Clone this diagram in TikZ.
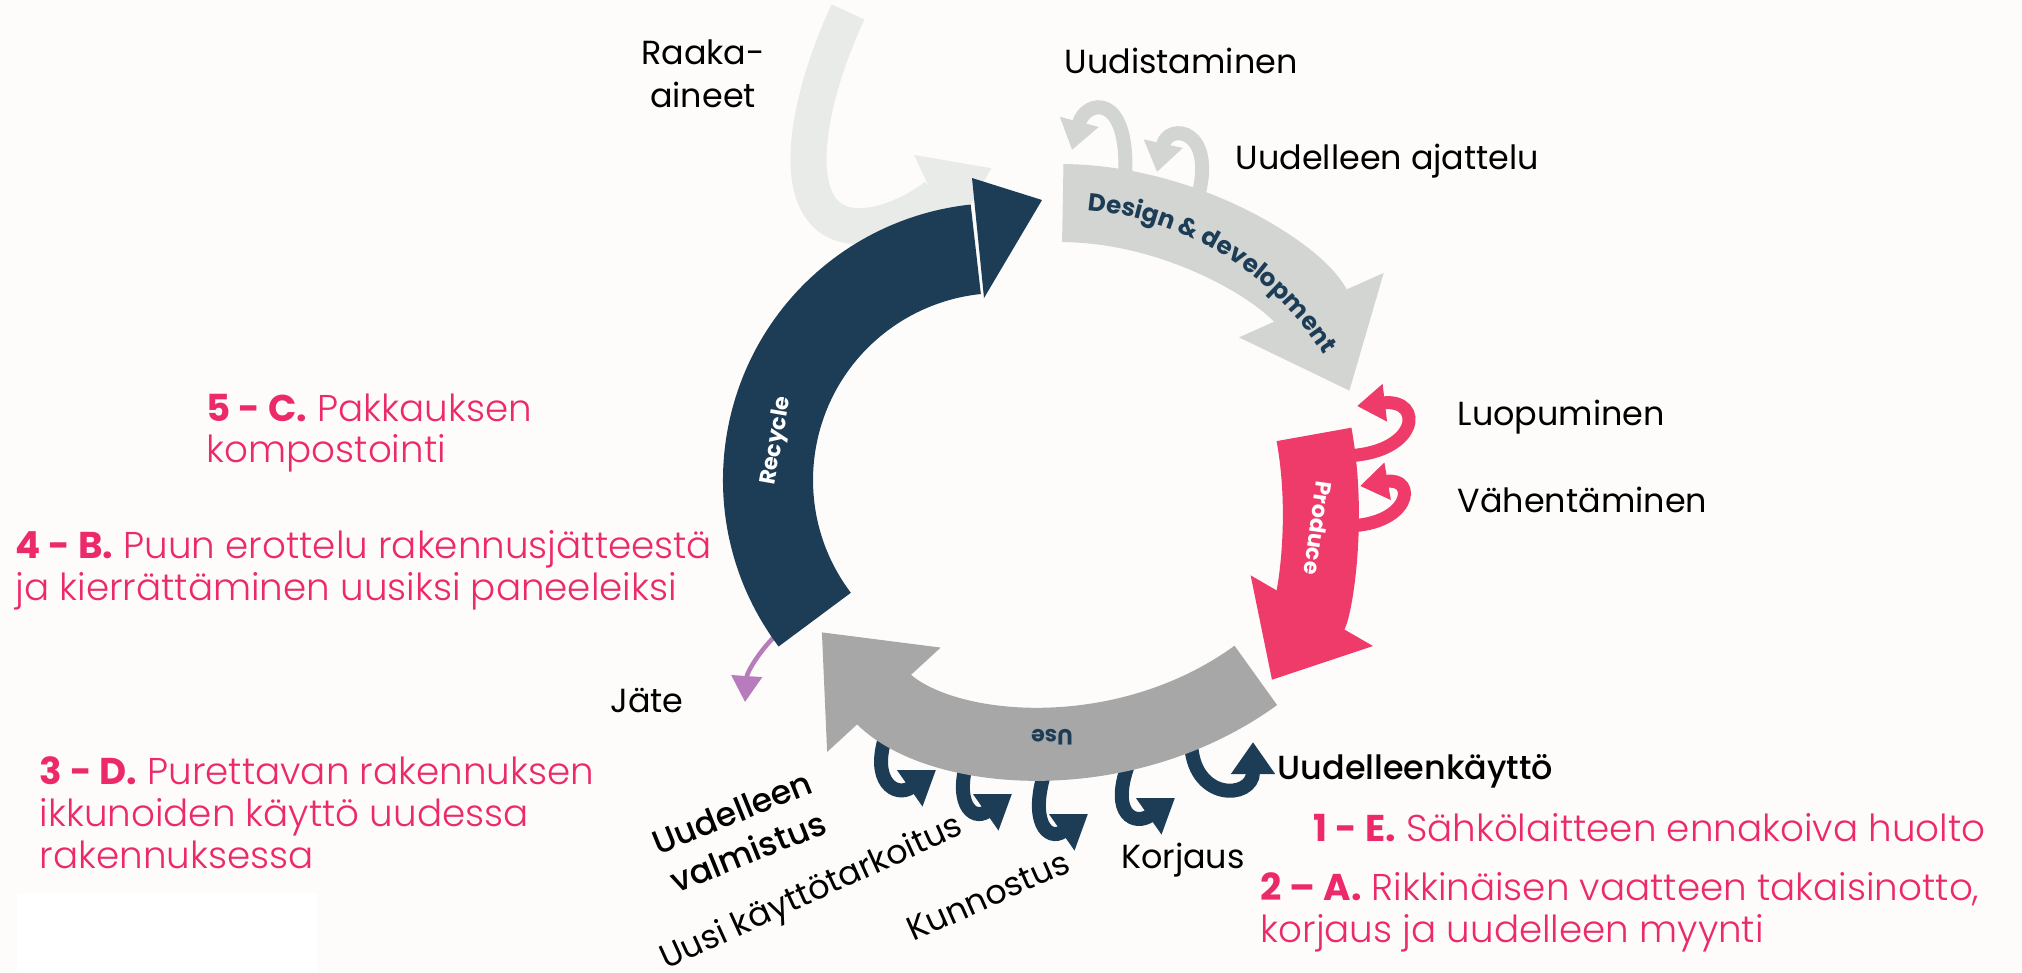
\documentclass[tikz,border=0pt]{standalone}
\usepackage{fontspec}
\setmainfont{Poppins}
\IfFontExistsTF{Poppins Medium}{\newfontfamily\medfont{Poppins Medium}}{\newfontfamily\medfont{Poppins}[FakeBold=0.8]}
\IfFontExistsTF{Poppins Light}{\newfontfamily\lightfont{Poppins Light}[BoldFont={Poppins Bold}]}{\newfontfamily\lightfont{Poppins}}
\usetikzlibrary{arrows.meta, decorations.text}
\definecolor{navy}{HTML}{1D3D57}
\definecolor{designgray}{HTML}{D3D5D2}
\definecolor{usegray}{HTML}{A7A7A7}
\definecolor{rawgray}{HTML}{E9EBE8}
\definecolor{prodpink}{HTML}{EF3B69}
\definecolor{txtpink}{HTML}{EC2A6B}
\definecolor{wastepurple}{HTML}{B77CBB}
\definecolor{paper}{HTML}{FDFCFA}
\tikzset{
    lbl/.style={font=\fontsize{9.5}{12.2}\selectfont, text=black, inner sep=0pt},
    medlbl/.style={lbl, font={\medfont\fontsize{9.5}{12.2}\selectfont}},
    casetext/.style={font={\lightfont\fontsize{10.6}{11.9}\selectfont}, text=txtpink, align=left, anchor=west, inner sep=0pt},
    stagetext/.style={font={\bfseries\fontsize{6.3}{7}\selectfont}, inner sep=0pt},
    hooknavy/.style={navy, line width=1.4mm, -{Triangle[width=4.2mm, length=3.2mm]}},
    looppink/.style={prodpink, line width=1.3mm, -{Triangle[width=3.6mm, length=2.8mm]}},
    loopgray/.style={designgray, line width=1.4mm, -{Triangle[width=3.8mm, length=2.9mm]}}
}
\begin{document}
\begin{tikzpicture}[x=0.01cm, y=-0.01cm]
    \useasboundingbox (0,0) rectangle (2022,972);
    \fill[paper] (0,0) rectangle (2022,972);
    \fill[white] (17,893) rectangle (318,972);

    \draw[rawgray, line width=3.6mm, -{Triangle[width=8.5mm, length=6.5mm]}] (848,12) .. controls (800,115) and (785,232) .. (865,226) .. controls (908,222) and (945,190) .. (992,168);

    \draw[loopgray] (1125,178) .. controls (1130,90) and (1085,100) .. (1072,150);
    \draw[loopgray] (1197,200) .. controls (1218,128) and (1168,122) .. (1157,172);
    \draw[designgray, line width=7.8mm, -{Triangle[width=15.2mm, length=9.4mm]}] (1060,520) ++(-89.5:317) arc[start angle=-89.5, end angle=-24, radius=317];
    \path[decorate, decoration={text along path, text align=center, text color=navy, text={|\bfseries\fontsize{7}{8}\selectfont|Design {\&} development}}] (1060,520) ++(-92:311) arc[start angle=-92, end angle=-25, radius=311];

    \draw[looppink] (1340,456) .. controls (1420,456) and (1425,398) .. (1357,406);
    \draw[looppink] (1340,526) .. controls (1412,528) and (1418,476) .. (1360,486);
    \draw[prodpink, line width=7.6mm, -{Triangle[width=13.6mm, length=8mm]}] (960,500) ++(-10.5:360) arc[start angle=-10.5, end angle=30, radius=360];

    \draw[hooknavy] (887,732) .. controls +(-18,50) and +(-40,28) .. (936,770);
    \draw[hooknavy] (970,752) .. controls +(-18,50) and +(-40,28) .. (1012,794);
    \draw[hooknavy] (1046,768) .. controls +(-18,54) and +(-40,28) .. (1088,814);
    \draw[hooknavy] (1128,765) .. controls +(-18,50) and +(-40,28) .. (1175,798);
    \draw[hooknavy] (1191,740) .. controls +(0,62) and +(0,58) .. (1253,742);
    \draw[usegray, line width=7.3mm, -{Triangle[width=14.8mm, length=9.2mm]}] (1063,410) ++(54:328) arc[start angle=54, end angle=137.4, radius=328];

    \draw[wastepurple, line width=0.45mm, -{Triangle[width=3mm, length=2.6mm]}] (778,633) .. controls (760,650) and (747,672) .. (745,702);
    \draw[navy, line width=9mm] (1000,480) ++(-217:232) arc[start angle=-217, end angle=-96, radius=232];
    \fill[navy] (972,178) -- (1042,200) -- (984,298) -- cycle;

    \node[stagetext, text=white, rotate=80] (recycletxt) at (777,441) {Recycle};
    \node[stagetext, text=white, rotate=-98] (producetxt) at (1318,528) {Produce};
    \node[stagetext, text=navy, rotate=180] (usetxt) at (1052,737) {Use};

    \node[lbl, align=center] (raaka) at (703,74) {Raaka-\\aineet};
    \node[lbl] (uudistaminen) at (1181,61) {Uudistaminen};
    \node[lbl, anchor=west] (ajattelu) at (1235,161) {Uudelleen ajattelu};
    \node[lbl, anchor=west] (luopuminen) at (1457,417) {Luopuminen};
    \node[lbl, anchor=west] (vahentaminen) at (1457,500) {Vähentäminen};
    \node[medlbl, anchor=west] (kaytto) at (1277,771) {Uudelleenkäyttö};
    \node[lbl] (jate) at (647,700) {Jäte};
    \node[medlbl, align=center, rotate=22] (valmistus) at (740,832) {Uudelleen\\valmistus};
    \node[lbl, rotate=24.5] (tarkoitus) at (812,894) {Uusi käyttötarkoitus};
    \node[lbl, rotate=24] (kunnostus) at (988,896) {Kunnostus};
    \node[lbl] (korjaus) at (1183,860) {Korjaus};

    \node[casetext] (caseC) at (206,433) {\textbf{5 - C.} Pakkauksen\\kompostointi};
    \node[casetext] (caseB) at (15,570) {\textbf{4 - B.} Puun erottelu rakennusjätteestä\\ja kierrättäminen uusiksi paneeleiksi};
    \node[casetext] (caseD) at (39,813) {\textbf{3 - D.} Purettavan rakennuksen\\ikkunoiden käyttö uudessa\\rakennuksessa};
    \node[casetext] (caseE) at (1313,828) {\textbf{1 - E.} Sähkölaitteen ennakoiva huolto};
    \node[casetext] (caseA) at (1260,912) {\textbf{2 – A.} Rikkinäisen vaatteen takaisinotto,\\korjaus ja uudelleen myynti};
\end{tikzpicture}
\end{document}
